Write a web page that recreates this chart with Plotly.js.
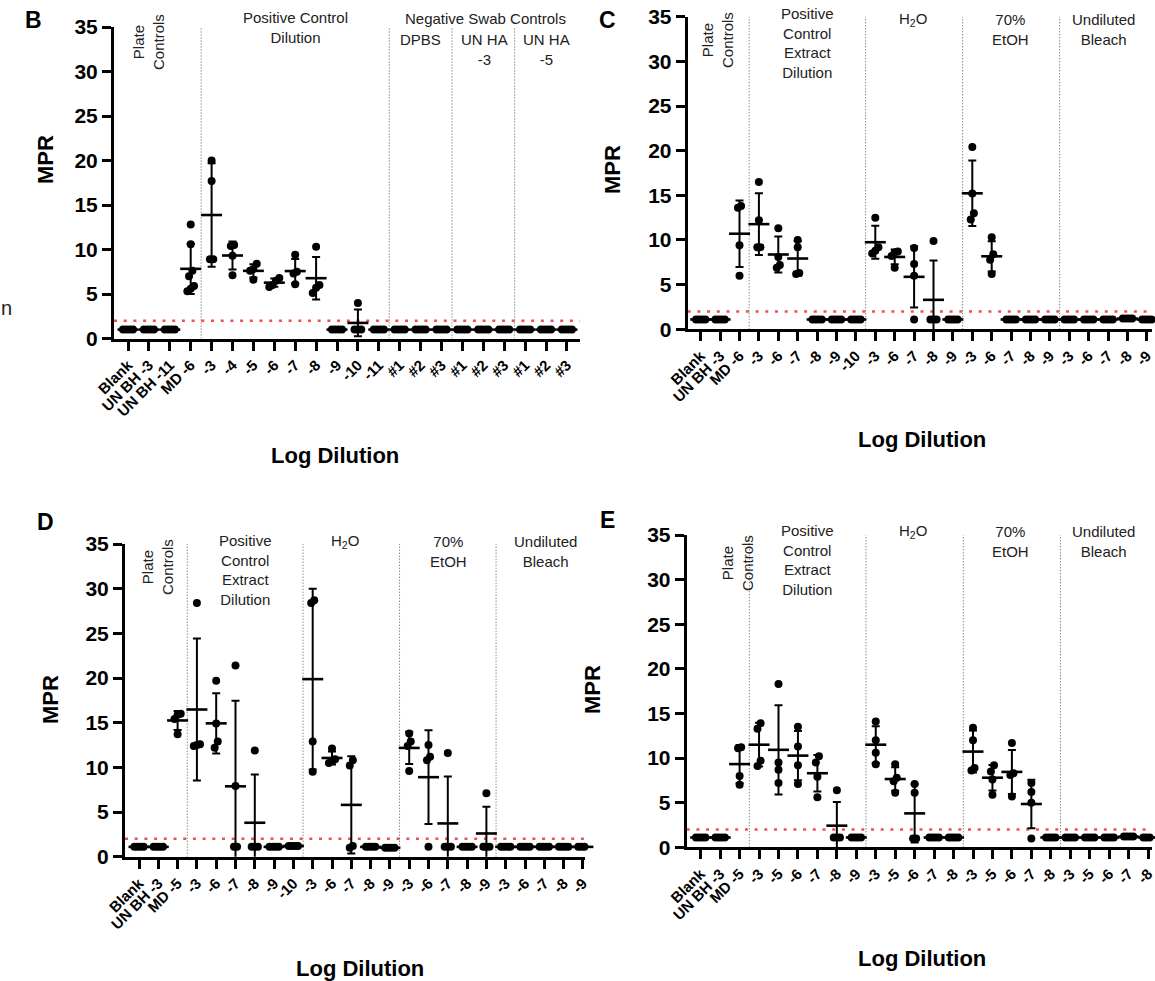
<!DOCTYPE html>
<html>
<head>
<meta charset="utf-8">
<script src="https://cdn.plot.ly/plotly-3.0.1.min.js"></script>
<style>html,body{margin:0;padding:0;background:#fff;}#chart{width:1155px;height:981px;}</style>
</head>
<body>
<div id="chart"></div>
<script>
// ---------------- DATA ----------------
const B_categories = ['Blank','UN BH -3','UN BH -11','MD -6','-3','-4','-5','-6','-7','-8','-9','-10','-11','#1','#2','#3','#1','#2','#3','#1','#2','#3'];
const B_values = [
  [1.0,1.0,1.0,1.0],[1.0,1.0,1.0,1.0],[1.0,1.0,1.0,1.0],
  [12.8,10.6,7.6,7.0,5.9,5.6,5.3],
  [20.0,17.7,8.9,8.9],[10.5,10.4,9.3,7.1],[8.4,7.8,7.6,6.6],[6.8,6.5,6.0,5.8],
  [9.4,7.5,7.3,6.1],[10.3,6.0,5.7,5.1],[1.0,1.0,1.0,1.0],[4.0,1.0,1.0,1.0],[1.0,1.0,1.0,1.0],
  [1.0,1.0,1.0,1.0],[1.0,1.0,1.0,1.0],[1.0,1.0,1.0,1.0],
  [1.0,1.0,1.0,1.0],[1.0,1.0,1.0,1.0],[1.0,1.0,1.0,1.0],
  [1.0,1.0,1.0,1.0],[1.0,1.0,1.0,1.0],[1.0,1.0,1.0,1.0]
];

const C_categories = ['Blank','UN BH -3','MD -6','-3','-6','-7','-8','-9','-10','-3','-6','-7','-8','-9','-3','-6','-7','-8','-9','-3','-6','-7','-8','-9'];
const C_values = [
  [1.1,1.1,1.1,1.1],[1.1,1.1,1.1,1.1],[13.6,13.8,9.4,6.0],
  [16.5,12.2,9.2,9.2],[11.3,8.1,7.2,6.9],[10.0,9.2,6.2,6.3],[1.1,1.1,1.1,1.1],[1.1,1.1,1.1,1.1],[1.1,1.1,1.1,1.1],
  [12.5,9.2,8.8,8.5],[8.7,8.6,8.2,6.9],[9.1,7.3,6.0,1.1],[9.9,1.1,1.1,1.1],[1.1,1.1,1.1,1.1],
  [20.4,15.2,13.0,12.3],[10.3,8.4,7.8,6.2],[1.1,1.1,1.1,1.1],[1.1,1.1,1.1,1.1],[1.1,1.1,1.1,1.1],
  [1.1,1.1,1.1,1.1],[1.1,1.1,1.1,1.1],[1.1,1.1,1.1,1.1],[1.2,1.2,1.2,1.2],[1.1,1.1,1.1,1.1]
];

const D_categories = ['Blank','UN BH -3','MD -5','-3','-6','-7','-8','-9','-10','-3','-6','-7','-8','-9','-3','-6','-7','-8','-9','-3','-6','-7','-8','-9'];
const D_values = [
  [1.1,1.1,1.1,1.1],[1.1,1.1,1.1,1.1],[16.0,15.9,15.4,13.7],
  [28.4,12.6,12.5,12.4],[19.7,14.9,12.9,12.2],[21.4,7.9,1.1,1.1],[11.9,1.1,1.1,1.1],[1.1,1.1,1.1,1.1],[1.2,1.2,1.2,1.2],
  [28.4,28.7,12.9,9.5],[12.1,10.9,10.7,10.5],[10.8,10.2,1.2,1.0],[1.1,1.1,1.1,1.1],[1.0,1.0,1.0,1.0],
  [13.8,12.9,12.4,9.6],[12.5,11.2,10.8,1.1],[11.6,1.1,1.1,1.1],[1.1,1.1,1.1,1.1],[7.1,1.1,1.1,1.1],
  [1.1,1.1,1.1,1.1],[1.1,1.1,1.1,1.1],[1.1,1.1,1.1,1.1],[1.1,1.1,1.1,1.1],[1.1,1.1,1.1,1.1]
];

const E_categories = ['Blank','UN BH -3','MD -5','-3','-5','-6','-7','-8','-9','-3','-5','-6','-7','-8','-3','-5','-6','-7','-8','-3','-5','-6','-7','-8'];
const E_values = [
  [1.1,1.1,1.1,1.1],[1.1,1.1,1.1,1.1],[11.1,11.2,8.0,7.0],
  [13.3,13.9,9.7,9.1],[18.3,9.5,8.7,7.2],[13.5,11.3,9.2,7.1],[10.2,9.5,7.9,5.6],[6.4,1.1,1.1,1.1],[1.1,1.1,1.1,1.1],
  [14.1,12.0,10.6,9.3],[9.3,7.8,7.4,6.1],[7.1,6.1,1.0,1.0],[1.1,1.1,1.1,1.1],[1.1,1.1,1.1,1.1],
  [13.4,12.0,8.9,8.6],[9.2,8.5,7.6,5.9],[11.7,8.3,8.1,5.7],[7.2,6.2,5.0,1.0],[1.1,1.1,1.1,1.1],
  [1.1,1.1,1.1,1.1],[1.1,1.1,1.1,1.1],[1.1,1.1,1.1,1.1],[1.2,1.2,1.2,1.2],[1.1,1.1,1.1,1.1]
];

const yTicks = [0,5,10,15,20,25,30,35];
const threshold = 2;

// ---------------- LAYOUT HELPERS ----------------
const W = 1155, H = 981;
const px = x => x / W;
const py = y => 1 - y / H;
const FONT = 'Liberation Sans, Arial, Helvetica, sans-serif';

const panels = [
  {s:'',  cats:B_categories, vals:B_values, div:[3.5,12.5,15.5,18.5], axL:114,   axR:580,  y0:338.5, y35:27,   t0:128,   step:20.9},
  {s:'2', cats:C_categories, vals:C_values, div:[2.5,8.5,13.5,18.5],  axL:687.7, axR:1152, y0:329.3, y35:16.7, t0:700.7, step:19.4},
  {s:'3', cats:D_categories, vals:D_values, div:[2.5,8.5,13.5,18.5],  axL:125,   axR:585,  y0:856.7, y35:544,  t0:139,   step:19.3},
  {s:'4', cats:E_categories, vals:E_values, div:[2.5,8.5,13.5,18.5],  axL:686.7, axR:1152, y0:847.3, y35:535,  t0:700.7, step:19.45}
];

function offsets(vals){
  const order = vals.map((v,i)=>[v,i]).sort((a,b)=>a[0]-b[0]);
  const off = new Array(vals.length).fill(0);
  let cl = [order[0]];
  const flush = () => { const n = cl.length; cl.forEach((p,k)=>{ off[p[1]] = (k-(n-1)/2)*0.16; }); };
  for (let k=1;k<order.length;k++){
    if (order[k][0]-cl[cl.length-1][0] < 0.8) cl.push(order[k]);
    else { flush(); cl = [order[k]]; }
  }
  flush();
  return off;
}
const mean = a => a.reduce((s,v)=>s+v,0)/a.length;
const sd = a => { const m = mean(a); return a.length>1 ? Math.sqrt(a.reduce((s,v)=>s+(v-m)*(v-m),0)/(a.length-1)) : 0; };

const traces = [];
const layout = {
  width: W, height: H,
  margin: {l:0, r:0, t:0, b:0},
  paper_bgcolor: '#fff', plot_bgcolor: 'rgba(0,0,0,0)',
  showlegend: false,
  font: {family: FONT, color: '#000'},
  shapes: [], annotations: []
};

panels.forEach(p => {
  const xa = 'x'+p.s, ya = 'y'+p.s;
  const ptsX = [], ptsY = [];
  p.vals.forEach((g,i) => {
    const off = offsets(g);
    g.forEach((v,k) => { ptsX.push(i+off[k]); ptsY.push(v); });
  });
  const idx = p.cats.map((c,i)=>i);
  traces.push({type:'scatter', mode:'markers', x:ptsX, y:ptsY, xaxis:xa, yaxis:ya,
    marker:{size:8, color:'#000'}, hoverinfo:'y', cliponaxis:false});
  traces.push({type:'scatter', mode:'markers', x:idx, y:p.vals.map(mean), xaxis:xa, yaxis:ya,
    marker:{symbol:'line-ew', size:15, line:{width:2.6, color:'#000'}},
    error_y:{type:'data', array:p.vals.map(sd), visible:true, color:'#000', thickness:2, width:4},
    hoverinfo:'y', cliponaxis:false});

  const xmin = (p.axL - p.t0)/p.step, xmax = (p.axR - p.t0)/p.step;
  layout['xaxis'+p.s] = {
    domain:[px(p.axL), px(p.axR)], range:[xmin, xmax], anchor:ya,
    tickmode:'array', tickvals:idx, ticktext:p.cats, tickangle:-45, ticklabeloverflow:'allow',
    ticks:'outside', ticklen:9, tickwidth:3, tickcolor:'#000',
    showline:true, linewidth:3, linecolor:'#000', showgrid:false, zeroline:false,
    tickfont:{family:FONT, size:15, color:'#000', weight:'bold'}, fixedrange:true
  };
  layout['yaxis'+p.s] = {
    domain:[py(p.y0), py(p.y35)], range:[0,35], anchor:xa,
    tickmode:'array', tickvals:yTicks, ticks:'outside', ticklen:9, tickwidth:3, tickcolor:'#000',
    showline:true, linewidth:3, linecolor:'#000', showgrid:false, zeroline:false, ticklabeloverflow:'allow',
    tickfont:{family:FONT, size:21, color:'#000', weight:'bold'}, fixedrange:true
  };
  layout.shapes.push({type:'line', xref:xa+' domain', yref:ya, x0:0, x1:1, y0:threshold, y1:threshold,
    line:{color:'#f24f4f', width:2.5, dash:'3px,6.7px'}, layer:'below'});
  p.div.forEach(d => layout.shapes.push({type:'line', xref:xa, yref:ya, x0:d, x1:d, y0:0, y1:35.6,
    line:{color:'#555', width:1, dash:'1px,2px'}, layer:'below'}));
});

function ann(text, x, y, opt){
  layout.annotations.push(Object.assign({text, xref:'paper', yref:'paper', x:px(x), y:py(y),
    xanchor:'center', yanchor:'middle', showarrow:false,
    font:{family:FONT, size:15, color:'#222'}}, opt||{}));
}
const bold = (size) => ({font:{family:FONT, size:size, color:'#000', weight:'bold'}});

// panel letters
ann('B', 33, 20, bold(23)); ann('C', 607, 20, bold(23)); ann('D', 45, 522, bold(23)); ann('E', 607, 520, bold(23));
// axis titles
ann('MPR', 45, 160, Object.assign(bold(22), {textangle:-90}));
ann('MPR', 612, 170, Object.assign(bold(22), {textangle:-90}));
ann('MPR', 50, 700, Object.assign(bold(22), {textangle:-90}));
ann('MPR', 592, 690, Object.assign(bold(22), {textangle:-90}));
ann('Log Dilution', 335, 455, bold(22));
ann('Log Dilution', 922, 440, bold(22));
ann('Log Dilution', 360, 968, bold(22));
ann('Log Dilution', 922, 958, bold(22));
// stray text at left edge
ann('n', 6, 308, {font:{family:FONT, size:20, color:'#222'}});

// group headers - B
ann('Plate<br>Controls', 148, 42, {textangle:-90});
ann('Positive Control<br>Dilution', 295, 28);
ann('Negative Swab Controls', 485, 18);
ann('DPBS', 420, 40);
ann('UN HA<br>-3', 484, 49);
ann('UN HA<br>-5', 546, 49);
// C
ann('Plate<br>Controls', 718, 40, {textangle:-90});
ann('Positive<br>Control<br>Extract<br>Dilution', 807, 43);
ann('H<sub>2</sub>O', 913, 19);
ann('70%<br>EtOH', 1010, 29);
ann('Undiluted<br>Bleach', 1103, 29);
// D
ann('Plate<br>Controls', 157, 567, {textangle:-90});
ann('Positive<br>Control<br>Extract<br>Dilution', 245, 570);
ann('H<sub>2</sub>O', 345, 541);
ann('70%<br>EtOH', 448, 551);
ann('Undiluted<br>Bleach', 545, 551);
// E
ann('Plate<br>Controls', 737, 563, {textangle:-90});
ann('Positive<br>Control<br>Extract<br>Dilution', 807, 560);
ann('H<sub>2</sub>O', 913, 531);
ann('70%<br>EtOH', 1010, 541);
ann('Undiluted<br>Bleach', 1103, 541);

Plotly.newPlot('chart', traces, layout, {staticPlot:true, displayModeBar:false});
</script>
</body>
</html>
